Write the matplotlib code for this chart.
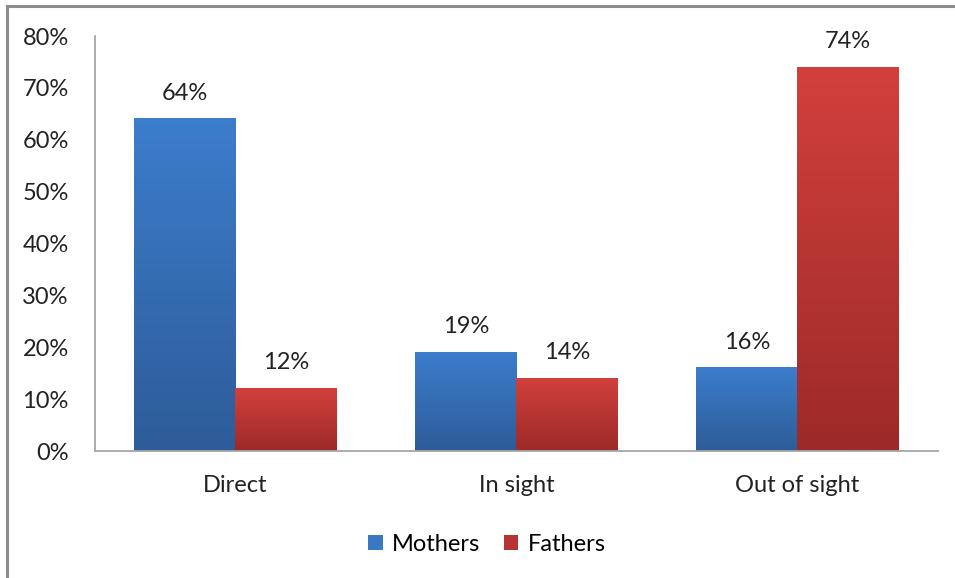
import numpy as np
import matplotlib.pyplot as plt
from matplotlib.lines import Line2D
from matplotlib.colors import LinearSegmentedColormap

categories = ['Direct', 'In sight', 'Out of sight']
mothers = [64, 19, 16]
fathers = [12, 14, 74]
y_ticks = [0, 10, 20, 30, 40, 50, 60, 70, 80]

plt.rcParams['font.family'] = ['Lato', 'DejaVu Sans']

fig = plt.figure(figsize=(9.55, 5.78), dpi=100)
ax = fig.add_axes([0.0995, 0.2197, 0.8825, 0.718])

x = np.arange(len(categories))
w = 0.36
bars_m = ax.bar(x - w / 2, mothers, w, color='#3a78c4', label='Mothers')
bars_f = ax.bar(x + w / 2, fathers, w, color='#c53a37', label='Fathers')

# Excel-like vertical gradient fill, one per bar
blue_cmap = LinearSegmentedColormap.from_list('b', ['#2d5c98', '#3c7dcc'])
red_cmap = LinearSegmentedColormap.from_list('r', ['#9c2a28', '#d2403d'])
grad = np.linspace(0, 1, 256).reshape(-1, 1)
for bars, cmap in [(bars_m, blue_cmap), (bars_f, red_cmap)]:
    for b in bars:
        x0, y0 = b.get_x(), b.get_y()
        x1, y1 = x0 + b.get_width(), y0 + b.get_height()
        im = ax.imshow(grad, cmap=cmap, origin='lower', aspect='auto',
                       extent=[x0, x1, y0, y1], zorder=2)
        b.set_facecolor('none')
        b.set_edgecolor('none')

for bars, vals in [(bars_m, mothers), (bars_f, fathers)]:
    for b, v in zip(bars, vals):
        ax.text(b.get_x() + b.get_width() / 2, v + 5.0, f'{v}%',
                ha='center', va='center', fontsize=17, color='#222222')

ax.set_xlim(-0.5, 2.5)
ax.set_ylim(0, 80)
ax.set_yticks(y_ticks)
ax.set_yticklabels([f'{t}%' for t in y_ticks])
ax.set_xticks(x)
ax.set_xticklabels(categories)
ax.tick_params(axis='both', length=0, labelsize=17, colors='#222222')
ax.tick_params(axis='y', pad=19)
ax.tick_params(axis='x', pad=17)
for s in ['top', 'right']:
    ax.spines[s].set_visible(False)
for s in ['left', 'bottom']:
    ax.spines[s].set_color('#a6a6a6')
    ax.spines[s].set_linewidth(1.3)

leg = ax.legend(loc='center', bbox_to_anchor=(0.465, -0.225), ncol=2,
                frameon=False, fontsize=17, handlelength=0.6, handleheight=0.6,
                handletextpad=0.4, columnspacing=1.0)
for h, c in zip(leg.legend_handles, ['#3a78c4', '#b83432']):
    h.set_facecolor(c)

# chart frame (only top and left visible in the crop)
fig.add_artist(Line2D([7 / 955, 7 / 955], [0, 1 - 6 / 578], color='#8c8c8c',
                      lw=2.2, transform=fig.transFigure))
fig.add_artist(Line2D([7 / 955, 1], [1 - 6 / 578, 1 - 6 / 578], color='#8c8c8c',
                      lw=2.2, transform=fig.transFigure))

fig.savefig('out.png', dpi=100)
